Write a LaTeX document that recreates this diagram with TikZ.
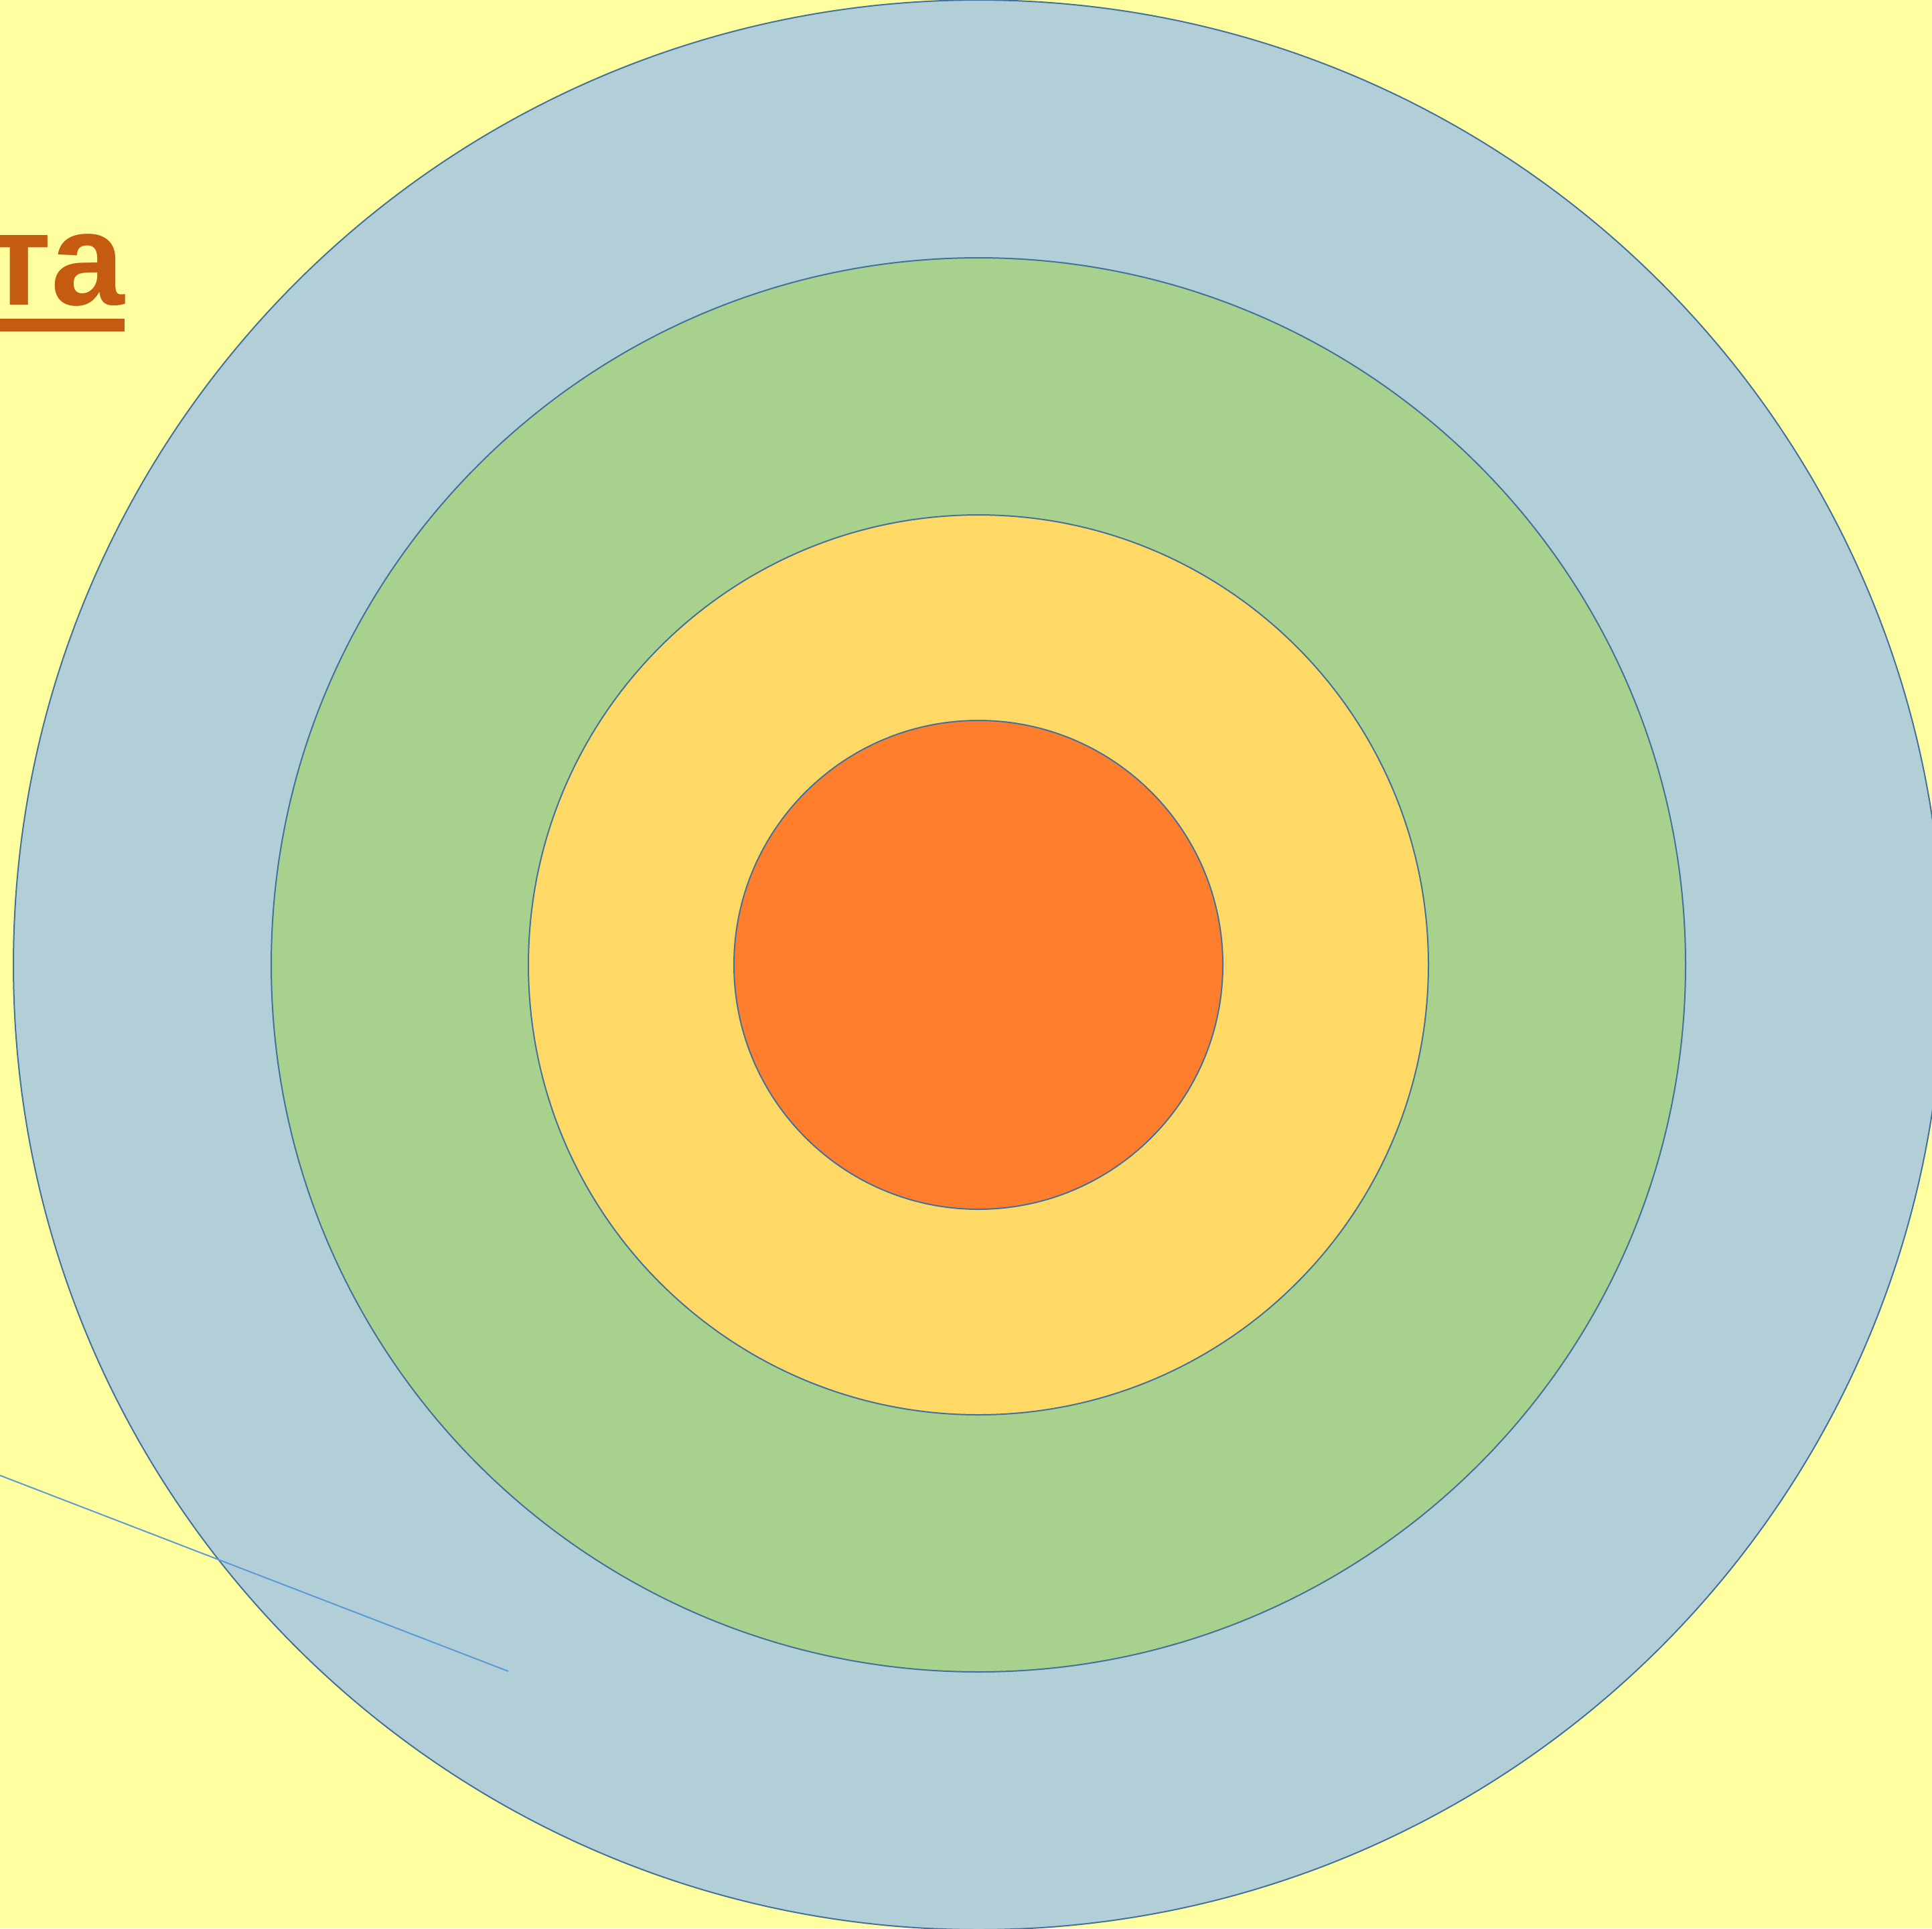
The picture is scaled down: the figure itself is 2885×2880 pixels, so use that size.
\documentclass[tikz,border=0pt]{standalone}
\usepackage{fontspec}
\setmainfont{Liberation Sans}
\definecolor{bg}{RGB}{255,255,159}
\definecolor{ringblue}{RGB}{178,207,216}
\definecolor{ringgreen}{RGB}{168,209,141}
\definecolor{ringyellow}{RGB}{255,217,102}
\definecolor{ringorange}{RGB}{255,126,46}
\definecolor{edgeblue}{RGB}{65,113,156}
\definecolor{titlebrown}{RGB}{197,90,17}
\definecolor{thinblue}{RGB}{91,155,213}
\begin{document}
\begin{tikzpicture}[x=0.1mm,y=-0.1mm,
  ring/.style={circle,draw=edgeblue,line width=0.2mm,inner sep=0pt,minimum size=#1*0.2mm},
]
\path[fill=bg,use as bounding box] (0,0) rectangle (2885,2880);
\begin{scope}
\clip (0,0) rectangle (2885,2880);
\node[ring=1441,fill=ringblue] (outer) at (1461,1441) {};
\node[ring=1056,fill=ringgreen] (green) at (1461,1441) {};
\node[ring=672,fill=ringyellow] (yellowc) at (1461,1441) {};
\node[ring=365,fill=ringorange] (core) at (1461,1441) {};
\coordinate (lineA) at (-100,2165);
\coordinate (lineB) at (759,2496);
\draw[thinblue,line width=0.2mm] (lineA) -- (lineB);
\node[anchor=base east,inner sep=0pt,text=titlebrown,font=\bfseries\fontsize{56pt}{60pt}\selectfont] (title) at (187,455) {та};
\fill[titlebrown] (-50,476) rectangle (186,495);
\end{scope}
\end{tikzpicture}
\end{document}
